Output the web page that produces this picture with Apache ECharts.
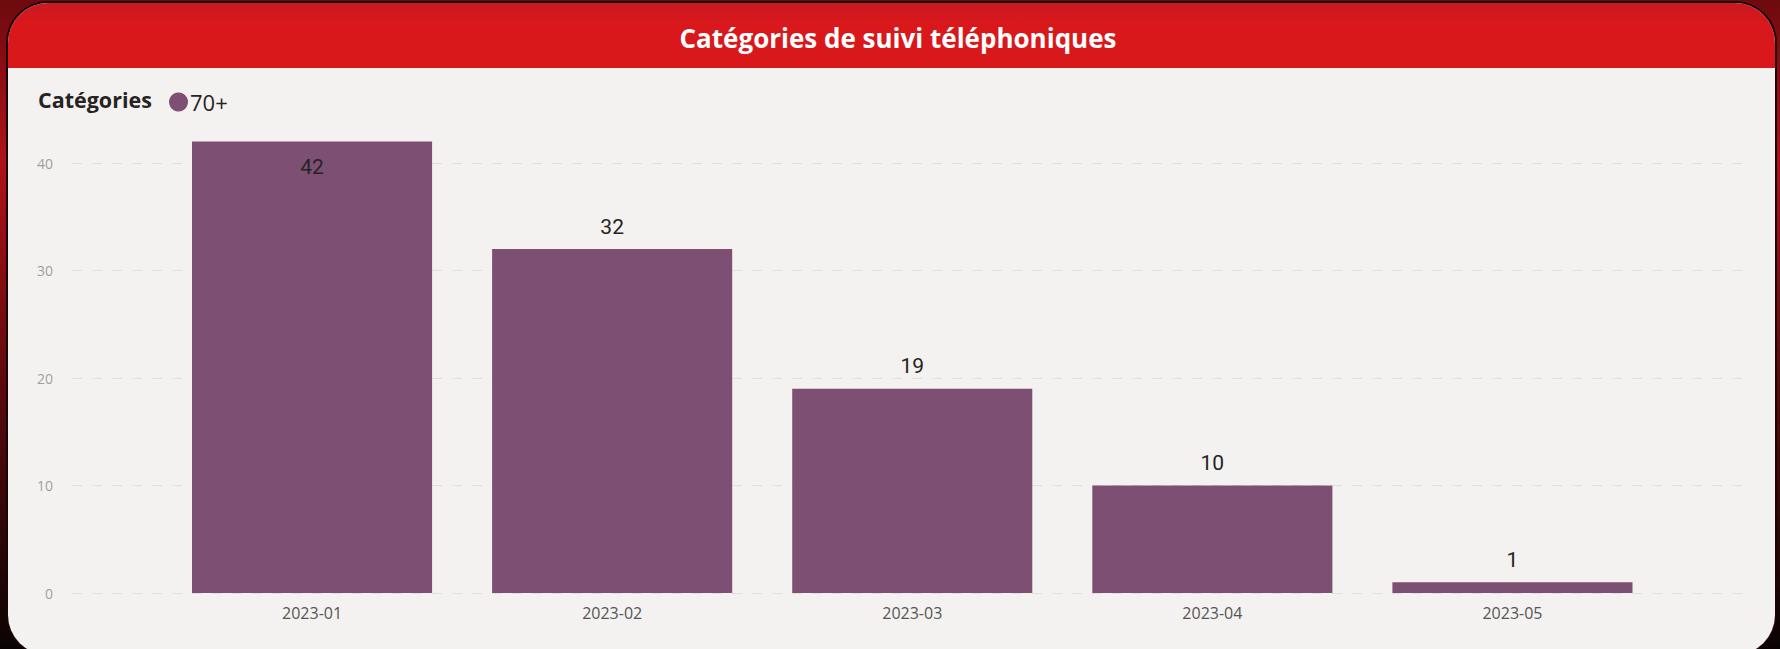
<!DOCTYPE html>
<html>
<head>
<meta charset="utf-8">
<script src="https://cdn.jsdelivr.net/npm/echarts@6/dist/echarts.min.js"></script>
<style>
	html, body {
		margin: 0;
		padding: 0;
		width: 1780px;
		height: 649px;
		overflow: hidden;
		background: linear-gradient(180deg, #6e0a0e 0%, #b0121a 25%, #5a0a0c 60%, #0a0303 100%);
	}
	.panel {
		position: absolute;
		left: 8px;
		top: 3px;
		width: 1767px;
		height: 652px;
		border-radius: 40px;
		background: #f4f2f0;
		overflow: hidden;
		box-shadow: 0 0 0 2px #1a0506;
	}
	.header {
		position: absolute;
		left: 0;
		top: 0;
		width: 100%;
		height: 65px;
		background: linear-gradient(180deg, #c81a20 0%, #d9181c 30%, #d9181c 100%);
	}
	#chart {
		position: absolute;
		left: 0;
		top: 0;
		width: 1780px;
		height: 649px;
	}
</style>
</head>
<body>
<div class="panel"><div class="header"></div></div>
<div id="chart"></div>
<script>
	// données du graphique
	var months = ['2023-01', '2023-02', '2023-03', '2023-04', '2023-05'];
	var values70 = [42, 32, 19, 10, 1];
	var yTicks = [0, 10, 20, 30, 40];
	var seriesName = '70+';

	var barColor = '#7d4f73';
	var yMax = 42;

	var myChart = echarts.init(document.getElementById('chart'), null, { renderer: 'svg' });

	var option = {
		animation: false,
		title: [{
			text: 'Catégories de suivi téléphoniques',
			left: 893,
			textAlign: 'center',
			top: 20,
			textStyle: {
				color: '#ffffff',
				fontSize: 26,
				fontWeight: 'bold',
				fontFamily: 'Open Sans'
			}
		}, {
			text: 'Catégories',
			left: 33,
			top: 83,
			textStyle: {
				color: '#252423',
				fontSize: 21.5,
				fontWeight: 'bold',
				fontFamily: 'Open Sans'
			}
		}],
		legend: {
			left: 164,
			top: 86,
			icon: 'circle',
			itemWidth: 19,
			itemHeight: 19,
			itemGap: 4,
			data: [seriesName],
			textStyle: {
				color: '#252423',
				fontSize: 22,
				fontFamily: 'Open Sans',
				padding: [0, 0, 0, -3]
			}
		},
		grid: [{
			// grille large : lignes de repère et graduations
			left: 72,
			right: 30,
			top: 141.5,
			bottom: 56
		}, {
			// grille des barres
			left: 162,
			right: 117.5,
			top: 141.5,
			bottom: 56
		}],
		xAxis: [{
			gridIndex: 0,
			type: 'value',
			show: false
		}, {
			gridIndex: 1,
			type: 'category',
			data: months,
			axisLine: { show: false },
			axisTick: { show: false },
			axisLabel: {
				margin: 12,
				color: '#555555',
				fontSize: 16,
				fontFamily: 'Open Sans'
			}
		}],
		yAxis: [{
			gridIndex: 0,
			type: 'value',
			min: yTicks[0],
			max: yMax,
			interval: 10,
			axisLine: { show: false },
			axisTick: { show: false },
			axisLabel: {
				margin: 19,
				showMaxLabel: false,
				color: '#a19f9d',
				fontSize: 14,
				fontFamily: 'Open Sans',
				formatter: function (v) {
					return yTicks.indexOf(v) >= 0 ? String(v) : '';
				}
			},
			splitLine: {
				show: true,
				showMaxLine: false,
				lineStyle: {
					color: '#e1dfdd',
					type: [10, 10],
					width: 1
				}
			}
		}, {
			gridIndex: 1,
			type: 'value',
			min: yTicks[0],
			max: yMax,
			show: false,
			splitLine: { show: false }
		}],
		series: [{
			name: seriesName,
			type: 'bar',
			xAxisIndex: 1,
			yAxisIndex: 1,
			barCategoryGap: '20%',
			itemStyle: { color: barColor },
			label: {
				show: true,
				position: 'top',
				distance: 12,
				color: '#252423',
				fontSize: 21,
				fontFamily: 'Roboto'
			},
			data: values70.map(function (v, i) {
				// la première barre touche le haut : étiquette à l'intérieur
				if (i === 0) {
					return { value: v, label: { position: 'insideTop', distance: 15 } };
				}
				return v;
			})
		}]
	};
	myChart.setOption(option);
</script>
</body>
</html>
